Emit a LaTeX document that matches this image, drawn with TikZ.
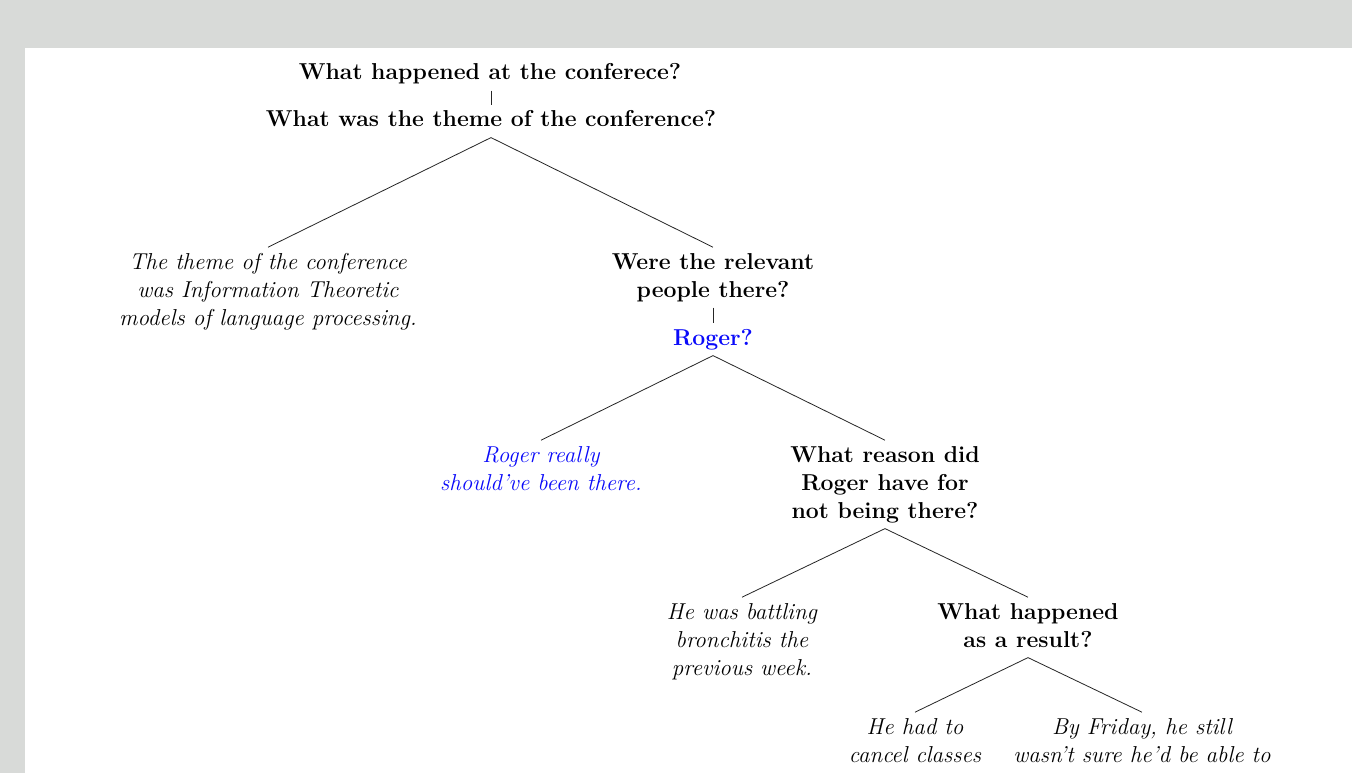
\documentclass[tikz,border=0pt]{standalone}
\usepackage{xcolor}
\definecolor{pagebg}{HTML}{D8DAD8}
\definecolor{qblue}{RGB}{10,10,250}
\begin{document}
\begin{tikzpicture}[x=1pt,y=-1pt,
  every node/.style={inner sep=2pt, align=center, anchor=base, font=\fontsize{23}{28}\selectfont},
  q/.style={font=\fontsize{23}{28}\selectfont\bfseries},
  a/.style={font=\fontsize{23}{28}\selectfont\itshape},
  qb/.style={q, text=qblue},
  ab/.style={a, text=qblue},
  edge/.style={draw=black!85, line width=0.8pt}]
\useasboundingbox (0,0) rectangle (1352,773);
\fill[pagebg] (0,0) rectangle (1352,773);
\fill[white] (25,48) rectangle (1352,773);

\node[q] (root) at (490,80) {\strut What happened at the conferece?\strut};
\node[q] (theme) at (491,127) {\strut What was the theme of the conference?\strut};
\node[a] (themeA) at (268,325) {\strut The theme of the conference\\was Information Theoretic\\models of language processing.\strut};
\node[q] (were) at (713,297) {\strut Were the relevant\\people there?\strut};
\node[qb] (roger) at (713,345) {\strut Roger?\strut};
\node[ab] (rogerA) at (541,490) {\strut Roger really\\should've been there.\strut};
\node[q] (reason) at (885,518) {\strut What reason did\\Roger have for\\not being there?\strut};
\node[a] (bronch) at (742,675) {\strut He was battling\\bronchitis the\\previous week.\strut};
\node[q] (result) at (1028,647) {\strut What happened\\as a result?\strut};
\node[a] (cancel) at (915,762) {\strut He had to\\cancel classes\strut};
\node[a] (friday) at (1142,762) {\strut By Friday, he still\\wasn't sure he'd be able to\strut};

\draw[edge] (root.south -| theme.south) -- (theme.north);
\draw[edge] (theme.south) -- (themeA.north);
\draw[edge] (theme.south) -- (were.north);
\draw[edge] (were.south) -- (roger.north);
\draw[edge] (roger.south) -- (rogerA.north);
\draw[edge] (roger.south) -- (reason.north);
\draw[edge] (reason.south) -- (bronch.north);
\draw[edge] (reason.south) -- (result.north);
\draw[edge] (result.south) -- (cancel.north);
\draw[edge] (result.south) -- (friday.north);
\end{tikzpicture}
\end{document}
